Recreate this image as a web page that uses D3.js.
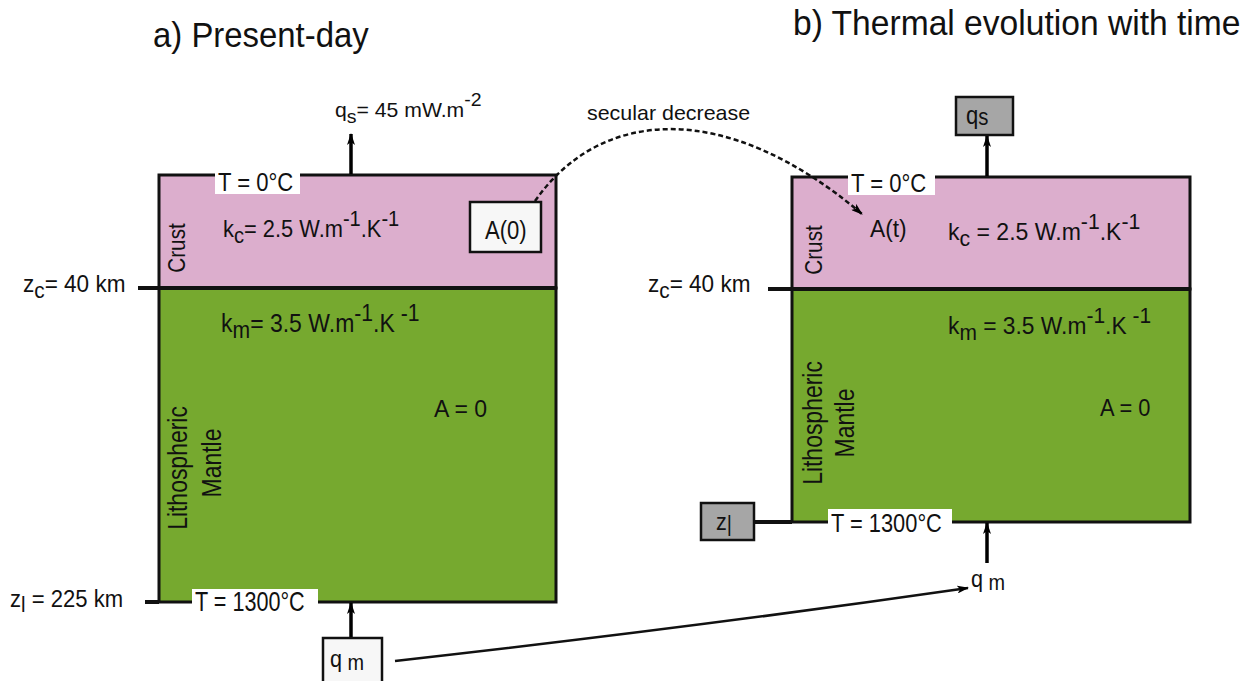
<!DOCTYPE html>
<html>
<head>
<meta charset="utf-8">
<script src="https://cdn.jsdelivr.net/npm/d3@7"></script>
<style>
  body { margin: 0; background: #fff; }
  text { font-family: "Liberation Sans", Arial, sans-serif; fill: #111; }
</style>
</head>
<body>
<div id="diagram"></div>
<script>
// lithosphere columns: a) present-day, b) evolution with time
var panels = ["a) Present-day", "b) Thermal evolution with time"];
var layerNames = ["Crust", "Lithospheric", "Mantle"];
var layerColors = ["#dcaecd", "#76a92f"];
var depthsA = [0, 40, 225];      // km: surface, Moho, base of lithosphere
var depthsB = [0, 40, 160];      // base is unknown (zl), drawn shallower
var conductivity = [2.5, 3.5];   // W/m/K, crust and mantle
var surfaceFlow = 45;            // mW/m2
var temps = [0, 1300];           // top and base temperatures

var svgWidth = 1248;
var svgHeight = 681;

var svg = d3.select("#diagram")
    .append("svg")
    .attr("width", svgWidth)
    .attr("height", svgHeight);

// arrowhead
svg.append("defs").append("marker")
    .attr("id", "head")
    .attr("viewBox", "0 0 12 8")
    .attr("refX", 11)
    .attr("refY", 4)
    .attr("markerWidth", 12)
    .attr("markerHeight", 8)
    .attr("markerUnits", "userSpaceOnUse")
    .attr("orient", "auto")
    .append("path")
    .attr("d", "M0,0 L12,4 L0,8 L3,4 Z")
    .attr("fill", "#000");

// depth scales (the original is not to scale, so piecewise)
var yA = d3.scaleLinear().domain(depthsA).range([175, 288, 602]);
var yB = d3.scaleLinear().domain(depthsB).range([177, 289, 522]);
var xA = d3.scaleLinear().domain([0, 1]).range([159, 556]);
var xB = d3.scaleLinear().domain([0, 1]).range([792, 1190]);

// text with sub/superscripts; parts = [[string, shift]], shift>0 raises
// sx squeezes the font horizontally (original uses a narrow helvetica)
function rich(g, x, y, size, parts, sx) {
    var t = g.append("text")
        .attr("transform", "translate(" + x + "," + y + ") scale(" + (sx || 1) + ",1)")
        .attr("font-size", size);
    var prev = 0;
    parts.forEach(function (p) {
        t.append("tspan")
            .attr("dy", -(p[1] - prev))
            .attr("font-size", p[1] === 0 ? size : size * 0.92)
            .text(p[0]);
        prev = p[1];
    });
    return t;
}

function whiteLabel(g, x, y, w, h, txt, size, sx) {
    g.append("rect").attr("x", x).attr("y", y).attr("width", w).attr("height", h).attr("fill", "#fff");
    rich(g, x + 3, y + h - 3, size, [[txt, 0]], sx);
}

function drawColumn(g, x, y, depths) {
    for (var i = 0; i < 2; i++) {
        g.append("rect")
            .attr("x", x(0))
            .attr("y", y(depths[i]))
            .attr("width", x(1) - x(0))
            .attr("height", y(depths[i + 1]) - y(depths[i]))
            .attr("fill", layerColors[i])
            .attr("stroke", "#111")
            .attr("stroke-width", 3);
    }
    g.append("line")
        .attr("x1", x(0)).attr("x2", x(1))
        .attr("y1", y(depths[1])).attr("y2", y(depths[1]))
        .attr("stroke", "#111").attr("stroke-width", 4);
}

function vertLabel(g, bx, cy, txt, size, sx) {
    g.append("text")
        .attr("transform", "translate(" + bx + "," + cy + ") rotate(-90) scale(" + sx + ",1)")
        .attr("text-anchor", "middle")
        .attr("font-size", size)
        .text(txt);
}

function upArrow(g, x, y1, y2) {
    g.append("line")
        .attr("x1", x).attr("x2", x)
        .attr("y1", y1).attr("y2", y2)
        .attr("stroke", "#000").attr("stroke-width", 3.5)
        .attr("marker-end", "url(#head)");
}

function tick(g, x1, x2, y) {
    g.append("line").attr("x1", x1).attr("x2", x2).attr("y1", y).attr("y2", y)
        .attr("stroke", "#111").attr("stroke-width", 4);
}

function box(g, x, y, w, h, fill) {
    g.append("rect").attr("x", x).attr("y", y).attr("width", w).attr("height", h)
        .attr("fill", fill).attr("stroke", "#111").attr("stroke-width", 2.5);
}

// ---------- panel a ----------
var ga = svg.append("g");
rich(ga, 153, 47, 35, [[panels[0], 0]], 0.94);
drawColumn(ga, xA, yA, depthsA);

upArrow(ga, 351, yA(0) - 1, 134);
rich(ga, 335, 117, 20, [["q", 0], ["s", -6], ["= " + surfaceFlow + " mW.m", 0], ["-2", 11]], 1.06);
whiteLabel(ga, 215, 163, 85, 31, "T = " + temps[0] + "°C", 26, 0.85);

rich(ga, 223, 237, 23, [["k", 0], ["c", -6], ["= " + conductivity[0] + " W.m", 0], ["-1", 11], [".K", 0], ["-1", 11]], 0.95);
box(ga, 470, 202, 71, 50, "#f7f7f7");
rich(ga, 485, 239, 26, [["A(0)", 0]], 0.85);
vertLabel(ga, 185, 248, layerNames[0], 23, 0.9);

rich(ga, 221, 332, 25, [["k", 0], ["m", -6], ["=  " + conductivity[1] + " W.m", 0], ["-1", 11], [".K", 0], [" -1", 11]], 0.92);
rich(ga, 434, 417, 23, [["A  = 0", 0]], 1.0);
vertLabel(ga, 187, 468, layerNames[1], 28, 0.82);
vertLabel(ga, 221, 463, layerNames[2], 28, 0.82);

// depth ticks
tick(ga, 138, xA(0), yA(depthsA[1]));
rich(ga, 23, 292, 23, [["z", 0], ["c", -6], ["= " + depthsA[1] + " km", 0]], 0.98);
tick(ga, 145, xA(0), yA(depthsA[2]));
rich(ga, 10, 607, 24, [["z", 0], ["l", -5], [" = " + depthsA[2] + " km", 0]], 0.92);

whiteLabel(ga, 192, 589, 126, 25, "T = " + temps[1] + "°C", 27, 0.8);
upArrow(ga, 351, 640, yA(depthsA[2]) + 1);
box(ga, 323, 638, 59, 48, "#f7f7f7");
rich(ga, 330, 667, 24, [["q", 0], [" m", -3]], 0.9);

// ---------- panel b ----------
var gb = svg.append("g");
rich(gb, 793, 35, 35, [[panels[1], 0]], 0.96);
drawColumn(gb, xB, yB, depthsB);

upArrow(gb, 987, yB(0) - 1, 136);
box(gb, 956, 97, 57, 38, "#a6a6a6");
rich(gb, 966, 124, 26, [["q", 0], ["s", -1]], 0.85);
whiteLabel(gb, 848, 166, 87, 29, "T = " + temps[0] + "°C", 26, 0.85);

rich(gb, 870, 237, 24, [["A(t)", 0]], 0.95);
rich(gb, 948, 240, 24, [["k", 0], ["c", -6], [" = " + conductivity[0] + " W.m", 0], ["-1", 11], [".K", 0], ["-1", 11]], 0.96);
vertLabel(gb, 822, 250, layerNames[0], 23, 0.9);

rich(gb, 948, 334, 24, [["k", 0], ["m", -6], [" = " + conductivity[1] + " W.m", 0], ["-1", 11], [".K", 0], [" -1", 11]], 0.95);
rich(gb, 1100, 416, 23, [["A = 0", 0]], 0.95);
vertLabel(gb, 822, 423, layerNames[1], 28, 0.82);
vertLabel(gb, 854, 423, layerNames[2], 28, 0.82);

tick(gb, 768, xB(0), yB(depthsB[1]));
rich(gb, 648, 292, 23, [["z", 0], ["c", -6], ["= " + depthsB[1] + " km", 0]], 0.98);
tick(gb, 752, xB(0), yB(depthsB[2]));
box(gb, 701, 503, 53, 37, "#a6a6a6");
rich(gb, 716, 530, 24, [["z", 0], ["|", -1]], 0.9);

whiteLabel(gb, 828, 509, 124, 26, "T = " + temps[1] + "°C", 26, 0.84);
upArrow(gb, 987, 563, yB(depthsB[2]) + 1);
rich(gb, 971, 587, 24, [["q", 0], [" m", -3]], 0.9);

// ---------- connecting arrows ----------
svg.append("path")
    .attr("d", "M535,201 C600,108 725,98 862,214")
    .attr("fill", "none")
    .attr("stroke", "#111")
    .attr("stroke-width", 2.5)
    .attr("stroke-dasharray", "5,3")
    .attr("marker-end", "url(#head)");
rich(svg, 587, 120, 21, [["secular decrease", 0]], 1.02);

svg.append("path")
    .attr("d", "M395,661 Q690,628 968,588")
    .attr("fill", "none")
    .attr("stroke", "#111")
    .attr("stroke-width", 2.5)
    .attr("marker-end", "url(#head)");
</script>
</body>
</html>
